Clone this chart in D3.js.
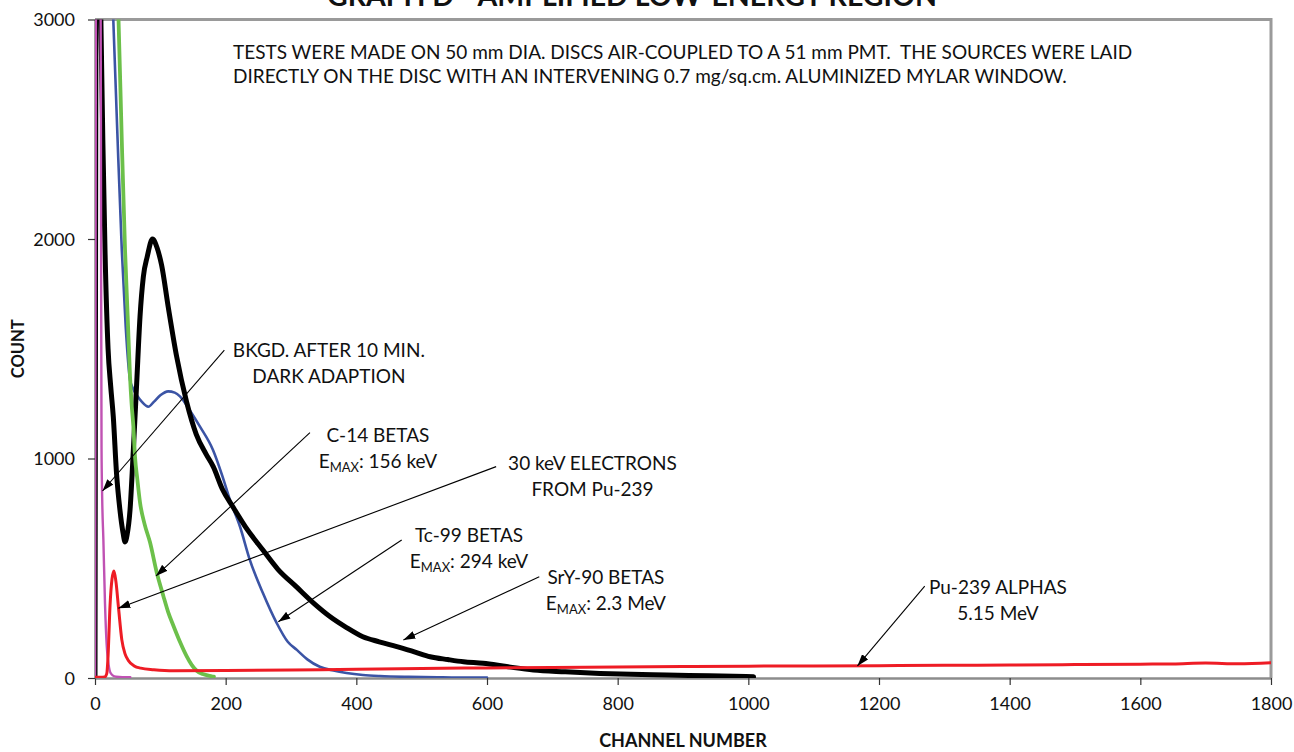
<!DOCTYPE html>
<html><head><meta charset="utf-8">
<script src="https://cdn.jsdelivr.net/npm/d3@7"></script>
<style>
body{margin:0;background:#fff}
svg{display:block}
text{font-family:Lato,"Open Sans",sans-serif;fill:#111}
</style>
</head><body>
<svg id="chart" width="1294" height="752"></svg>
<script>
// ---------- data ----------
const xTicks = [0,200,400,600,800,1000,1200,1400,1600,1800];
const yTicks = [0,1000,2000,3000];

// BKGD after 10 min dark adaption (magenta)
const bkgd = [[0,0],[1.5,3300],[5,3600],[8.6,3100],[9,2600],[9.4,1800],[10,1050],[11,820],[12.8,632],[15.3,340],[17.9,150],[20,80],[23,28],[27,12],[32,6],[42,4],[54,4]];
// SrY-90 betas (black)
const sry90 = [[0,0],[1.5,3300],[4,3600],[7,3400],[9,3000],[12,2450],[15.3,1950],[20,1500],[24,1330],[28,1190],[33,930],[38,770],[43,660],[46,620],[49,650],[53.6,765],[58.7,1039],[63.8,1343],[68.9,1646],[74,1828],[80,1920],[88,2000],[95,1960],[102,1880],[112,1692],[125,1464],[140,1260],[155,1110],[170,1020],[181,963],[195,860],[211,780],[230,690],[257,583],[280,495],[308,416],[335,340],[360,279],[385,230],[410,188],[435,165],[462,143],[490,118],[513,97],[540,84],[564,74],[594,67],[630,52],[671,36],[720,28],[773,21],[820,17],[875,14],[940,10],[1008,6]];
// Tc-99 betas (blue)
const tc99 = [[20,3600],[28,3000],[34,2500],[41,1950],[47,1600],[53.6,1358],[58,1320],[63.8,1289],[71.5,1259],[81.6,1236],[90,1258],[100,1288],[112,1306],[122,1300],[130,1283],[145,1220],[160.7,1145],[180.6,1039],[195,920],[206.6,811],[222,689],[237,538],[257,387],[278,251],[295,165],[309,128],[325,85],[344,51],[365,34],[385,23],[410,14],[436,9],[480,5],[530,3],[600,2]];
// C-14 betas (green)
const c14 = [[25,3600],[36,3000],[41,2450],[46,1950],[50,1650],[53.6,1374],[56,1250],[58.7,1147],[61.2,1010],[65,900],[68.9,800],[76,700],[84.2,618],[94.4,482],[104.6,374],[112,300],[120,238],[130,165],[140,101],[148,60],[155.7,33],[165,18],[178.6,8],[182,6]];
// Pu-239: 30 keV electrons + alphas (red)
const pu239 = [[0,3],[8,3],[15,5],[18,20],[20,100],[23,330],[26,450],[29,488],[32,440],[36,320],[41,175],[46,110],[51,80],[60,55],[70,45],[90,38],[120,33],[200,34],[300,36],[400,40],[500,43],[600,46],[700,48],[800,50],[900,52],[1000,54],[1100,55],[1200,56],[1300,58],[1400,59],[1500,61],[1600,63],[1650,64],[1700,68],[1750,65],[1800,70]];

const series = [
  {name:"Tc-99",  data:tc99,  color:"#3b54a5", width:2.6},
  {name:"SrY-90", data:sry90, color:"#000000", width:5},
  {name:"C-14",   data:c14,   color:"#6cc04a", width:3.8},
  {name:"BKGD",   data:bkgd,  color:"#c052b3", width:2.4},
  {name:"Pu-239", data:pu239, color:"#ee1c25", width:3.0}
];

// annotations: text lines, text centre (channel,count), leader start, arrow tip
const notes = [
  {lines:[["BKGD. AFTER 10 MIN."],["DARK ADAPTION"]], at:[358,1494], from:[198,1494], to:[11.5,852]},
  {lines:[["C-14 BETAS"],["E","MAX",": 156 keV"]], at:[433,1107], from:[329,1118], to:[93.4,465]},
  {lines:[["30 keV ELECTRONS"],["FROM Pu-239"]], at:[761.5,979], from:[614,963], to:[35.7,318]},
  {lines:[["Tc-99 BETAS"],["E","MAX",": 294 keV"]], at:[572.5,651], from:[469.4,629], to:[280.6,256]},
  {lines:[["SrY-90 BETAS"],["E","MAX",": 2.3 MeV"]], at:[782,461], from:[680,461], to:[472,173]},
  {lines:[["Pu-239 ALPHAS"],["5.15 MeV"]], at:[1382,416], from:[1270,419], to:[1167,55]}
];
const noteText = ["TESTS WERE MADE ON 50 mm DIA. DISCS AIR-COUPLED TO A 51 mm PMT.  THE SOURCES WERE LAID",
                  "DIRECTLY ON THE DISC WITH AN INTERVENING 0.7 mg/sq.cm. ALUMINIZED MYLAR WINDOW."];
const title = "GRAPH D - AMPLIFIED LOW-ENERGY REGION";
const xTitle = "CHANNEL NUMBER";
const yTitle = "COUNT";

// ---------- drawing ----------
const svg = d3.select("#chart");
const L=95, R=1271, T=19.5, B=678;
const x = d3.scaleLinear().domain([0,1800]).range([L,R]);
const y = d3.scaleLinear().domain([0,3000]).range([B,T]);

svg.append("defs").append("clipPath").attr("id","clip")
  .append("rect").attr("x",L).attr("y",T).attr("width",R-L).attr("height",B-T);
const mk = svg.select("defs").append("marker").attr("id","arrow")
  .attr("viewBox","0 0 12 8").attr("refX",12).attr("refY",4)
  .attr("markerWidth",12).attr("markerHeight",8).attr("markerUnits","userSpaceOnUse")
  .attr("orient","auto");
mk.append("path").attr("d","M0,0 L12,4 L0,8 Z").attr("fill","#000");

// title (cut off at top)
svg.append("text").attr("x",632).attr("y",6).attr("text-anchor","middle")
  .attr("font-weight","bold").attr("font-size",28.5).text(title);

// plot border (top/right)
svg.append("path").attr("d",`M${L},${T} H${R} V${B}`).attr("fill","none")
  .attr("stroke","#9a9a9a").attr("stroke-width",3);

// axes
const xAxis = svg.append("g").attr("transform",`translate(0,${B})`)
  .call(d3.axisBottom(x).tickValues(xTicks).tickSize(7).tickSizeOuter(0).tickPadding(12).tickFormat(d3.format("d")));
const yAxis = svg.append("g").attr("transform",`translate(${L},0)`)
  .call(d3.axisLeft(y).tickValues(yTicks).tickSize(7).tickSizeOuter(0).tickPadding(13).tickFormat(d3.format("d")));
[xAxis,yAxis].forEach(g=>{
  g.select(".domain").attr("stroke","#8c8c8c").attr("stroke-width",2.6);
  g.selectAll(".tick line").attr("stroke","#333").attr("stroke-width",1.2);
  g.selectAll(".tick text").attr("font-size",18).attr("fill","#111")
   .style("font-family","Lato,'Open Sans',sans-serif");
});
yAxis.selectAll(".tick text").attr("dy","0.34em");

// axis titles
svg.append("text").attr("x",(L+R)/2).attr("y",747).attr("text-anchor","middle")
  .attr("font-weight","bold").attr("font-size",18).text(xTitle);
svg.append("text").attr("transform",`translate(24,${(T+B)/2}) rotate(-90)`).attr("text-anchor","middle")
  .attr("font-weight","bold").attr("font-size",16.5).text(yTitle);

// series
const line = d3.line().x(d=>x(d[0])).y(d=>y(d[1])).curve(d3.curveMonotoneX);
const gS = svg.append("g").attr("clip-path","url(#clip)");
series.forEach(s=>{
  gS.append("path").attr("d",line(s.data)).attr("fill","none")
    .attr("stroke",s.color).attr("stroke-width",s.width)
    .attr("stroke-linejoin","round").attr("stroke-linecap","round");
});

// note text
noteText.forEach((t,i)=>{
  svg.append("text").attr("x",233).attr("y",58.5+i*24.5).attr("font-size",19)
    .style("white-space","pre").text(t);
});

// annotations
const gN = svg.append("g");
notes.forEach(n=>{
  gN.append("line").attr("x1",x(n.from[0])).attr("y1",y(n.from[1]))
    .attr("x2",x(n.to[0])).attr("y2",y(n.to[1]))
    .attr("stroke","#000").attr("stroke-width",1.1).attr("marker-end","url(#arrow)");
  n.lines.forEach((ln,i)=>{
    const t = gN.append("text").attr("x",x(n.at[0])).attr("y",y(n.at[1])+7+i*26)
      .attr("text-anchor","middle").attr("font-size",19);
    if(ln.length===1){ t.text(ln[0]); }
    else {
      t.append("tspan").text(ln[0]);
      t.append("tspan").attr("font-size",13).attr("dy",4).text(ln[1]);
      t.append("tspan").attr("dy",-4).text(ln[2]);
    }
  });
});
</script>
</body></html>
